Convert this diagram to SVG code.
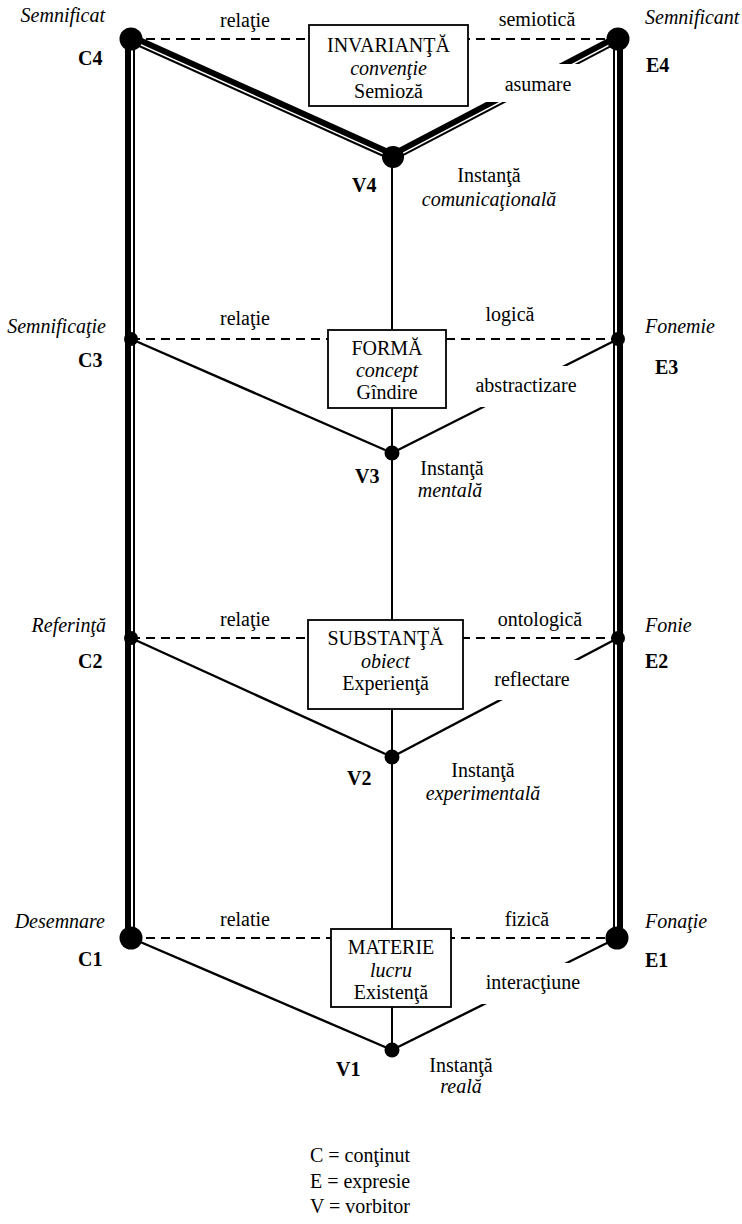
<svg xmlns="http://www.w3.org/2000/svg" width="742" height="1224" viewBox="0 0 742 1224" font-family="'Liberation Serif','Times New Roman',Tinos,'DejaVu Serif',serif">
<style>
.thick{stroke:#000;stroke-width:6;fill:none}
.thin{stroke:#000;stroke-width:2;fill:none}
.dash{stroke:#000;stroke-width:2;stroke-dasharray:9 6;fill:none}
.ln{stroke:#000;stroke-width:2.4;fill:none}
.box{fill:#fff;stroke:#000;stroke-width:1.8}
.bg{fill:#fff;stroke:none}
.node{fill:#000}
text{font-family:'Liberation Serif','Times New Roman',Tinos,'DejaVu Serif',serif;font-size:20px;fill:#000}
.it{font-style:italic}
.b{font-weight:bold}
.mid{text-anchor:middle}
.end{text-anchor:end}
</style>
<g id="connectors">
  <line class="dash" x1="131" y1="39" x2="618" y2="39"/>
  <line class="dash" x1="131" y1="339" x2="618" y2="339"/>
  <line class="dash" x1="131" y1="638" x2="618" y2="638"/>
  <line class="dash" x1="131" y1="938" x2="618" y2="938"/>
  <line class="thick" x1="128" y1="39" x2="128" y2="938"/>
  <line class="thin" x1="134" y1="39" x2="134" y2="938"/>
  <line class="thin" x1="614" y1="39" x2="614" y2="938"/>
  <line class="thick" x1="620" y1="39" x2="620" y2="938"/>
  <line class="thick" x1="132.03" y1="36.72" x2="394.03" y2="154.72"/>
  <line class="thin" x1="129.77" y1="41.74" x2="391.77" y2="159.74"/>
  <line class="thick" x1="391.84" y1="154.79" x2="616.84" y2="36.79"/>
  <line class="thin" x1="394.39" y1="159.66" x2="619.39" y2="41.66"/>
  <line class="thin" x1="392" y1="157" x2="392" y2="1050"/>
  <line class="ln" x1="131" y1="339" x2="392" y2="453"/>
  <line class="ln" x1="392" y1="453" x2="618" y2="339"/>
  <line class="ln" x1="131" y1="638" x2="392" y2="757"/>
  <line class="ln" x1="392" y1="757" x2="618" y2="638"/>
  <line class="ln" x1="131" y1="938" x2="392" y2="1050"/>
  <line class="ln" x1="392" y1="1050" x2="617" y2="938"/>
</g>
<g id="edge-labels">
  <rect class="bg" x="480" y="64" width="110" height="38"/>
  <text class="mid" x="538" y="91">asumare</text>
  <rect class="bg" x="462" y="366" width="128" height="41"/>
  <text class="mid" x="526" y="392">abstractizare</text>
  <rect class="bg" x="470" y="660" width="125" height="40"/>
  <text class="mid" x="532" y="686">reflectare</text>
  <rect class="bg" x="468" y="963" width="128" height="41"/>
  <text class="mid" x="533" y="989">interacţiune</text>
  <text class="mid" x="245" y="27">relaţie</text>
  <text class="mid" x="537" y="26">semiotică</text>
  <text class="mid" x="245" y="325">relaţie</text>
  <text class="mid" x="510" y="321">logică</text>
  <text class="mid" x="245" y="626">relaţie</text>
  <text class="mid" x="540" y="626">ontologică</text>
  <text class="mid" x="245" y="926">relatie</text>
  <text class="mid" x="527" y="926">fizică</text>
</g>
<g id="box-invarianta">
  <rect class="box" x="309" y="25" width="159" height="81"/>
  <text class="mid" x="388.5" y="52">INVARIANŢĂ</text>
  <text class="mid it" x="388.5" y="75">convenţie</text>
  <text class="mid" x="388.5" y="98">Semioză</text>
</g>
<g id="box-forma">
  <rect class="box" x="328" y="330" width="118" height="78"/>
  <text class="mid" x="387" y="355">FORMĂ</text>
  <text class="mid it" x="387" y="377">concept</text>
  <text class="mid" x="387" y="399">Gîndire</text>
</g>
<g id="box-substanta">
  <rect class="box" x="308" y="620" width="155" height="89"/>
  <text class="mid" x="385.5" y="645">SUBSTANŢĂ</text>
  <text class="mid it" x="385.5" y="668">obiect</text>
  <text class="mid" x="385.5" y="690">Experienţă</text>
</g>
<g id="box-materie">
  <rect class="box" x="331" y="929" width="120" height="78"/>
  <text class="mid" x="391" y="954">MATERIE</text>
  <text class="mid it" x="391" y="977">lucru</text>
  <text class="mid" x="391" y="999">Existenţă</text>
</g>
<g id="node-C4"><circle class="node" cx="131" cy="39" r="11.5"/><text class="it end" x="105" y="22">Semnificat</text><text class="b" x="78" y="65">C4</text></g>
<g id="node-E4"><circle class="node" cx="618" cy="39" r="11.5"/><text class="it" x="645" y="24">Semnificant</text><text class="b" x="646" y="72">E4</text></g>
<g id="node-V4"><circle class="node" cx="393" cy="157" r="11"/><text class="b" x="352" y="192">V4</text><text class="mid" x="489" y="182">Instanţă</text><text class="mid it" x="489" y="206">comunicaţională</text></g>
<g id="node-C3"><circle class="node" cx="131" cy="339" r="7"/><text class="it end" x="106" y="333">Semnificaţie</text><text class="b" x="78" y="367">C3</text></g>
<g id="node-E3"><circle class="node" cx="618" cy="339" r="7"/><text class="it" x="645" y="333">Fonemie</text><text class="b" x="655" y="374">E3</text></g>
<g id="node-V3"><circle class="node" cx="392" cy="453" r="7.5"/><text class="b" x="355" y="483">V3</text><text class="mid" x="452" y="475">Instanţă</text><text class="mid it" x="450" y="497">mentală</text></g>
<g id="node-C2"><circle class="node" cx="131" cy="638" r="7"/><text class="it end" x="106" y="632">Referinţă</text><text class="b" x="78" y="668">C2</text></g>
<g id="node-E2"><circle class="node" cx="618" cy="638" r="7"/><text class="it" x="645" y="632">Fonie</text><text class="b" x="645" y="668">E2</text></g>
<g id="node-V2"><circle class="node" cx="392" cy="757" r="7.5"/><text class="b" x="347" y="785">V2</text><text class="mid" x="483" y="777">Instanţă</text><text class="mid it" x="483" y="800">experimentală</text></g>
<g id="node-C1"><circle class="node" cx="131" cy="938" r="11.5"/><text class="it end" x="105" y="928">Desemnare</text><text class="b" x="78" y="966">C1</text></g>
<g id="node-E1"><circle class="node" cx="617" cy="938" r="11.5"/><text class="it" x="645" y="928">Fonaţie</text><text class="b" x="645" y="967">E1</text></g>
<g id="node-V1"><circle class="node" cx="392" cy="1050" r="7.5"/><text class="b" x="336" y="1076">V1</text><text class="mid" x="461" y="1072">Instanţă</text><text class="mid it" x="461" y="1093">reală</text></g>
<g id="legend">
  <text x="310" y="1162">C = conţinut</text>
  <text x="310" y="1188">E = expresie</text>
  <text x="310" y="1213">V = vorbitor</text>
</g>
</svg>
